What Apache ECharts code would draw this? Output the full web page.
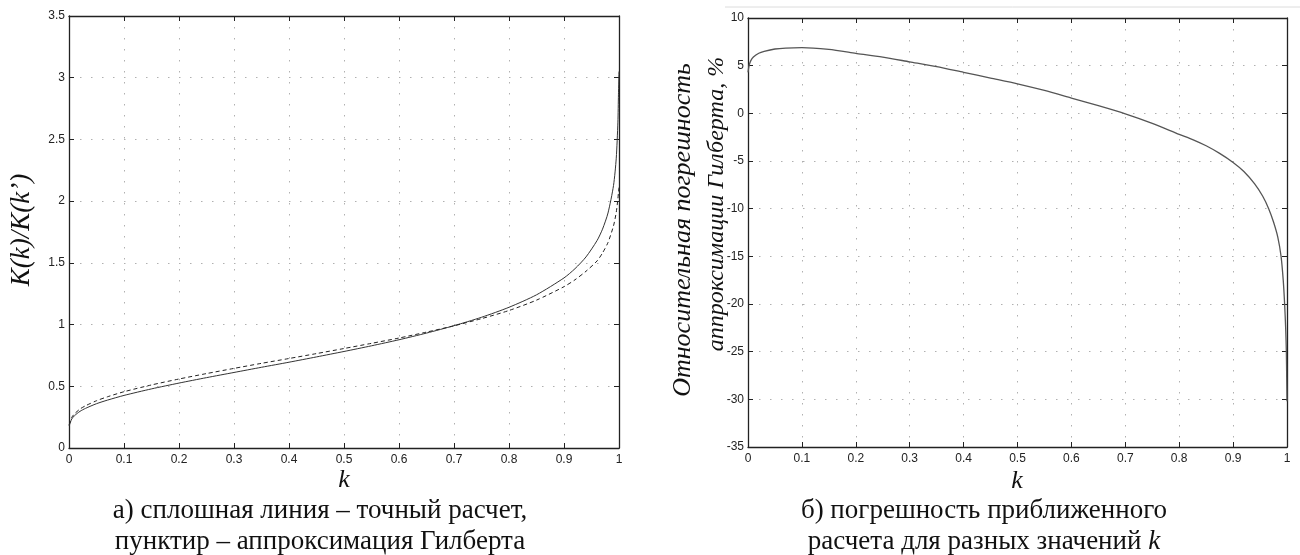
<!DOCTYPE html>
<html><head><meta charset="utf-8">
<script src="https://cdn.jsdelivr.net/npm/echarts@6/dist/echarts.min.js"></script>
<style>html,body{margin:0;padding:0;background:#fff;}#c{width:1300px;height:555px;}</style>
</head><body><div id="c"></div>
<script>
// ---- data ----
const kLeft = [0, 0.001, 0.005, 0.01, 0.02, 0.03, 0.05, 0.07, 0.1, 0.15, 0.2, 0.25, 0.3, 0.35, 0.4, 0.45, 0.5, 0.55, 0.6, 0.65, 0.7, 0.75, 0.8, 0.85, 0.9, 0.92, 0.94, 0.96, 0.97, 0.98, 0.99, 0.995, 0.998, 0.999, 1];
const ratioExact = [0.18, 0.189, 0.235, 0.262, 0.297, 0.321, 0.359, 0.388, 0.426, 0.479, 0.526, 0.570, 0.612, 0.654, 0.695, 0.738, 0.782, 0.828, 0.877, 0.931, 0.991, 1.059, 1.140, 1.241, 1.378, 1.453, 1.548, 1.680, 1.773, 1.904, 2.126, 2.348, 2.640, 2.861, 3.05];
const ratioHilbert = [0.188, 0.198, 0.248, 0.277, 0.316, 0.342, 0.383, 0.415, 0.456, 0.511, 0.559, 0.603, 0.645, 0.686, 0.725, 0.765, 0.806, 0.848, 0.891, 0.939, 0.990, 1.048, 1.114, 1.198, 1.307, 1.363, 1.432, 1.515, 1.580, 1.665, 1.800, 1.910, 2.020, 2.070, 2.110];
const kRight = [0, 0.002, 0.005, 0.01, 0.02, 0.03, 0.05, 0.07, 0.1, 0.15, 0.2, 0.25, 0.3, 0.35, 0.4, 0.45, 0.5, 0.55, 0.6, 0.65, 0.7, 0.75, 0.8, 0.825, 0.85, 0.875, 0.9, 0.92, 0.94, 0.955, 0.966, 0.975, 0.983, 0.989, 0.993, 0.9956, 0.9975, 0.9988, 0.9995, 1];
const errPct = [4.3, 5.0, 5.5, 5.9, 6.3, 6.5, 6.75, 6.85, 6.9, 6.7, 6.3, 5.9, 5.4, 4.9, 4.3, 3.7, 3.1, 2.4, 1.6, 0.8, -0.05, -1.05, -2.2, -2.75, -3.4, -4.2, -5.15, -6.1, -7.4, -8.7, -10, -11.4, -13.0, -15, -17.5, -20, -22.5, -25, -28, -30.2];
const xTicks = {min: 0, max: 1, interval: 0.1};
const yLeft = {min: 0, max: 3.5, interval: 0.5};
const yRight = {min: -35, max: 10, interval: 5};
const yTitleLeft = 'K(k)/K(k’)';
const yTitleRight1 = 'Относительная погрешность';
const yTitleRight2 = 'аппроксимации Гилберта, %';
const xTitle = 'k';
const capLeft1 = 'а) сплошная линия – точный расчет,';
const capLeft2 = 'пунктир – аппроксимация Гилберта';
const capRight1 = 'б) погрешность приближенного';
const capRight2 = 'расчета для разных значений ';

// ---- chart ----
const chart = echarts.init(document.getElementById('c'), null, {renderer: 'canvas'});
const grids = [
  {left: 69, top: 16, width: 550, height: 432},
  {left: 748, top: 18, width: 539, height: 429}
];
const fmt = v => String(+v.toFixed(2));
const axisLine = {show: true, onZero: false, lineStyle: {color: '#222', width: 1.3}};
const tick = {show: true, inside: true, length: 5, lineStyle: {color: '#222', width: 1}};
const grid = {show: true, lineStyle: {color: '#b0b0b0', width: 1, type: [1.5, 9.5]}};
const lab = {color: '#222', fontFamily: 'Liberation Sans, Arial', fontSize: 12, formatter: fmt};
function xAx(gi, main) {
  return Object.assign({type: 'value', gridIndex: gi, position: main ? 'bottom' : 'top',
    axisLine, axisTick: tick, splitLine: main ? grid : {show: false},
    axisLabel: main ? Object.assign({margin: 6}, lab) : {show: false}}, xTicks);
}
function yAx(gi, main, r) {
  return Object.assign({type: 'value', gridIndex: gi, position: main ? 'left' : 'right',
    axisLine, axisTick: tick, splitLine: main ? grid : {show: false},
    axisLabel: main ? Object.assign({margin: 4}, lab) : {show: false}}, r);
}
const zip = (a, b) => a.map((x, i) => [x, b[i]]);
const serif = 'Liberation Serif, Times New Roman, serif';
function txt(x, y, text, size, opts) {
  return Object.assign({type: 'text', x, y, style: {text, fill: '#111', font: (opts && opts.italic ? 'italic ' : '') + size + 'px ' + serif,
    textAlign: 'center', textVerticalAlign: 'middle'}}, opts && opts.rot ? {rotation: Math.PI / 2} : {});
}
const smooth = {smooth: 0.25, showSymbol: false, clip: true};
chart.setOption({
  animation: false,
  backgroundColor: '#fff',
  grid: grids,
  xAxis: [xAx(0, true), xAx(0, false), xAx(1, true), xAx(1, false)],
  yAxis: [yAx(0, true, yLeft), yAx(0, false, yLeft), yAx(1, true, yRight), yAx(1, false, yRight)],
  series: [
    Object.assign({type: 'line', xAxisIndex: 0, yAxisIndex: 0, data: zip(kLeft, ratioExact),
      lineStyle: {color: '#333', width: 1}, z: 3}, smooth),
    Object.assign({type: 'line', xAxisIndex: 0, yAxisIndex: 0, data: zip(kLeft, ratioHilbert),
      lineStyle: {color: '#222', width: 1, type: [4, 3]}, z: 3}, smooth),
    Object.assign({type: 'line', xAxisIndex: 2, yAxisIndex: 2, data: zip(kRight, errPct),
      lineStyle: {color: '#555', width: 1.3}, z: 3}, smooth)
  ],
  graphic: [
    {type: 'line', shape: {x1: 725, y1: 7, x2: 1300, y2: 7}, style: {stroke: '#dcdcdc', lineWidth: 1}},
    txt(22, 230, yTitleLeft, 27, {italic: true, rot: true}),
    txt(683, 230, yTitleRight1, 26, {italic: true, rot: true}),
    txt(717, 204, yTitleRight2, 24, {italic: true, rot: true}),
    txt(344, 480, xTitle, 26, {italic: true}),
    txt(1017, 481, xTitle, 26, {italic: true}),
    txt(320, 511, capLeft1, 27),
    txt(320, 542, capLeft2, 27),
    txt(984, 511, capRight1, 27),
    {type: 'text', x: 984, y: 542, style: {
      text: '{a|' + capRight2 + '}{b|k}',
      textAlign: 'center', textVerticalAlign: 'middle',
      rich: {a: {font: '27px ' + serif, fill: '#111'}, b: {font: 'italic 27px ' + serif, fill: '#111'}}}}
  ]
});
</script></body></html>
